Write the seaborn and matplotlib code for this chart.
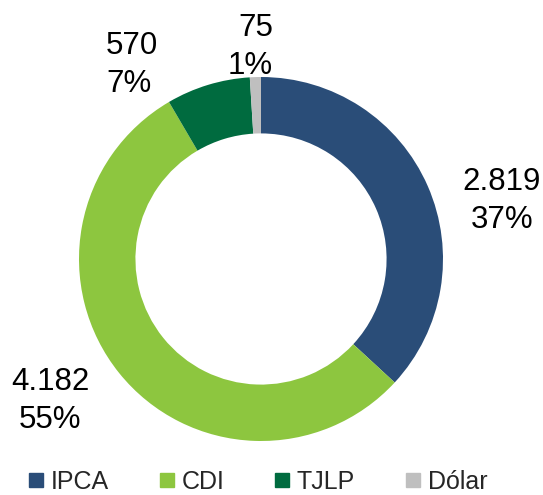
import seaborn as sns
import matplotlib.pyplot as plt
from matplotlib.lines import Line2D

sns.set_style('white')
plt.rcParams['font.family'] = ['Liberation Sans', 'DejaVu Sans']

categories = ['IPCA', 'CDI', 'TJLP', 'Dólar']
values = [2819, 4182, 570, 75]
colors = ['#2A4D78', '#8DC63F', '#006B3F', '#BFBFBF']
palette = sns.color_palette(colors)

# label spots (data coords, pie radius = 1) and alignment
label_pos = [(1.324, 0.319), (-1.159, -0.78), (-0.852, 1.066), (0.066, 1.165)]
label_ha = ['center', 'center', 'left', 'right']

fig = plt.figure(figsize=(5.43, 4.95), dpi=100)
ax = fig.add_axes([79 / 543, 54 / 495, 364 / 543, 364 / 495])

ax.pie(values, colors=palette, startangle=90, counterclock=False, radius=1,
       wedgeprops=dict(width=0.31, edgecolor='none'))
ax.set_xlim(-1, 1)
ax.set_ylim(-1, 1)
ax.set_aspect('equal')

total = sum(values)
for v, (x, y), ha in zip(values, label_pos, label_ha):
    txt = f"{v:,}".replace(',', '.') + f"\n{round(100 * v / total)}%"
    ax.text(x, y, txt, ha=ha, va='center', multialignment=ha, linespacing=1.35,
            fontsize=22.5, color='black', clip_on=False)

handles = [Line2D([], [], marker='s', linestyle='none', markersize=10,
                  markerfacecolor=c, markeredgecolor=c) for c in palette]
fig.legend(handles, categories, loc='center', bbox_to_anchor=(0.475, 1 - 482 / 495),
           ncol=4, frameon=False, fontsize=18, handlelength=0.6,
           handletextpad=0.3, columnspacing=2.0)

plt.savefig('out.png', dpi=100)
